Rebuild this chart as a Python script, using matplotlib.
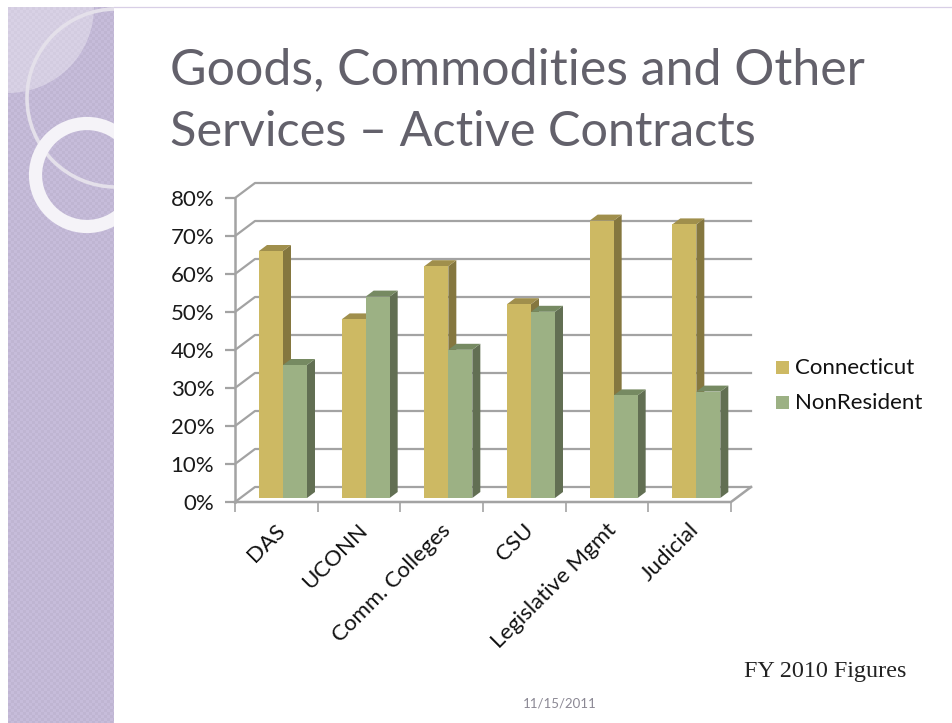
import numpy as np
import matplotlib
matplotlib.use('Agg')
import matplotlib.pyplot as plt
from matplotlib.patches import Circle, Polygon, Rectangle, Wedge

categories = ['DAS', 'UCONN', 'Comm. Colleges', 'CSU', 'Legislative Mgmt', 'Judicial']
connecticut = [65, 47, 61, 51, 73, 72]
nonresident = [35, 53, 39, 49, 27, 28]
y_ticks = [0, 10, 20, 30, 40, 50, 60, 70, 80]
y_labels = ['0%', '10%', '20%', '30%', '40%', '50%', '60%', '70%', '80%']

W, H = 952, 723
YELLOW, YELLOW_TOP, YELLOW_SIDE = '#cdb963', '#a08f4c', '#85773f'
GREEN, GREEN_TOP, GREEN_SIDE = '#9cb184', '#768a62', '#626f53'
GRID = '#a3a3a3'

plt.rcParams['font.family'] = ['Lato', 'DejaVu Sans']
fig = plt.figure(figsize=(W / 100, H / 100), dpi=100, facecolor='white')

# slide background, in pixels
bg = fig.add_axes([0, 0, 1, 1])
bg.set_xlim(0, W)
bg.set_ylim(H, 0)
bg.axis('off')

# fine checker for the purple band
yy, xx = np.mgrid[0:H - 7, 0:106]
tex = (((xx // 3) + (yy // 3)) % 2) * 0.03
band = np.zeros((H - 7, 106, 3))
band[..., 0] = 0.75 + tex
band[..., 1] = 0.71 + tex
band[..., 2] = 0.825 + tex
bg.imshow(band, extent=(8, 114, H, 7), aspect='auto', interpolation='bilinear', zorder=1)
bg.set_xlim(0, W)
bg.set_ylim(H, 0)

band_clip = Rectangle((8, 7), 106, H - 7, transform=bg.transData)
pale = Wedge((8, 7), 86, 0, 90, fc='white', alpha=0.32, ec='none', zorder=2)
bg.add_patch(pale)
pale.set_clip_path(band_clip)
thin = Circle((116, 98), 89, fc='none', ec='#e4e0ea', lw=2.6, zorder=3)
bg.add_patch(thin)
thin.set_clip_path(band_clip)
thick = Circle((87, 175), 51.5, fc='none', ec='#f5f3f8', lw=9.5, zorder=4)
bg.add_patch(thick)
thick.set_clip_path(band_clip)
bg.plot([114, W], [6.5, 6.5], color='#d8cfe6', lw=0.9, zorder=2)

bg.text(170, 70, 'Goods, Commodities and Other', fontsize=36, color='#63616b', va='center', ha='left')
bg.text(170, 132, 'Services \u2013 Active Contracts', fontsize=35, color='#63616b', va='center', ha='left')
bg.text(744, 672, 'FY 2010 Figures', fontsize=17.4, family='Liberation Serif', color='#222222', va='center')
bg.text(560, 703, '11/15/2011', fontsize=9.5, color='#8b8894', ha='center', va='center')

# chart area: x in category units, y in percent
left, right, top, bottom = 235, 731, 198, 502
ax = fig.add_axes([left / W, 1 - bottom / H, (right - left) / W, (bottom - top) / H])
ax.patch.set_alpha(0)
ax.set_xlim(0, len(categories))
ax.set_ylim(0, 80)
ax.set_clip_on(False)
for s in ax.spines.values():
    s.set_visible(False)

unit_x = (right - left) / len(categories)
unit_y = (bottom - top) / 80
wall_dx, wall_dy = 20 / unit_x, 15 / unit_y
bar_w = 24 / unit_x
bar_dx, bar_dy = 8 / unit_x, 6 / unit_y
base_dx, base_dy = 4 / unit_x, 4 / unit_y

# walls and floor
for t in y_ticks:
    ax.plot([0, wall_dx, len(categories) + wall_dx], [t, t + wall_dy, t + wall_dy],
            color=GRID, lw=1.6, clip_on=False, zorder=1)
ax.plot([0, len(categories), len(categories) + wall_dx], [0, 0, wall_dy],
        color=GRID, lw=1.8, clip_on=False, zorder=1)
ax.plot([0, 0], [0, 80], color=GRID, lw=1.8, clip_on=False, zorder=1)
ax.set_xticks(range(len(categories) + 1))
ax.set_xticklabels([])
ax.set_yticks(y_ticks)
ax.set_yticklabels(y_labels, fontsize=16, color='#1a1a1a')
ax.tick_params(axis='y', length=7, width=1.6, color=GRID, pad=8)
ax.tick_params(axis='x', length=7, width=1.2, color=GRID)


def draw_bar(x0, val, front, top_c, side_c, z):
    x1 = x0 + bar_w
    y0 = base_dy
    y1 = val + base_dy
    # side first so the next bar covers nothing it should not
    ax.add_patch(Polygon([(x1, y0), (x1 + bar_dx, y0 + bar_dy), (x1 + bar_dx, y1 + bar_dy), (x1, y1)],
                         fc=side_c, ec='none', clip_on=False, zorder=z))
    ax.add_patch(Polygon([(x0, y1), (x0 + bar_dx, y1 + bar_dy), (x1 + bar_dx, y1 + bar_dy), (x1, y1)],
                         fc=top_c, ec='none', clip_on=False, zorder=z))
    ax.bar(x0, val, width=bar_w, bottom=y0, align='edge', color=front, zorder=z + 0.5, clip_on=False)


for i in range(len(categories)):
    start = i + 24 / unit_x
    draw_bar(start, connecticut[i], YELLOW, YELLOW_TOP, YELLOW_SIDE, 2 + i)
    draw_bar(start + bar_w, nonresident[i], GREEN, GREEN_TOP, GREEN_SIDE, 2.2 + i)

for i, name in enumerate(categories):
    ax.annotate(name, xy=(i + 0.5, 0), xytext=(-1, -13), textcoords='offset points',
                rotation=45, rotation_mode='anchor', ha='right', va='top',
                fontsize=16, color='#111111', annotation_clip=False)

# legend
for y_px, c, name in [(368, YELLOW, 'Connecticut'), (403, GREEN, 'NonResident')]:
    bg.add_patch(Rectangle((776, y_px - 7), 13, 13, fc=c, ec='none', zorder=2))
    bg.text(795, y_px, name, fontsize=16, color='#111111', va='center')

fig.savefig('out.png', dpi=100)
